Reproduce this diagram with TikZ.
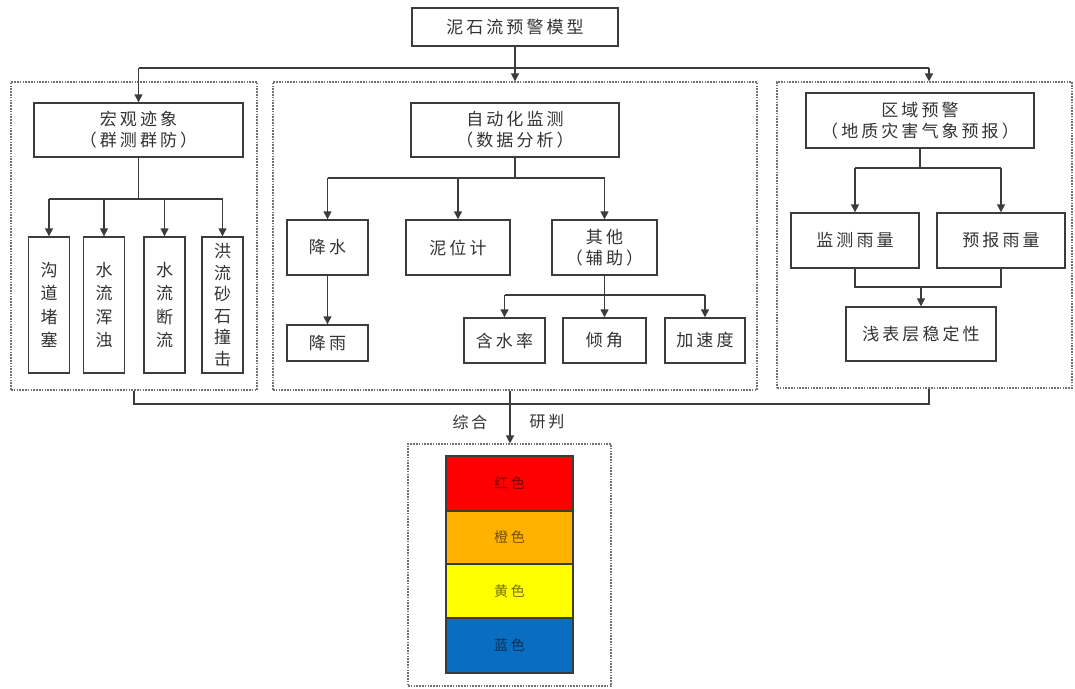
\documentclass[tikz,border=0pt]{standalone}
\usepackage{fontspec}
\newfontfamily\cjk[LetterSpace=18]{Noto Sans CJK SC}
\usetikzlibrary{arrows.meta}
\definecolor{ln}{HTML}{3C3C3C}
\definecolor{txt}{HTML}{333333}
\definecolor{grpc}{HTML}{707070}
\definecolor{cred}{HTML}{FF0000}
\definecolor{corange}{HTML}{FFB300}
\definecolor{cyellow}{HTML}{FFFF00}
\definecolor{cblue}{HTML}{0A6EC0}
\begin{document}
\begin{tikzpicture}[x=1pt,y=-1pt,
  box/.style={draw=ln, line width=1.4pt, fill=white, align=center, inner sep=0pt, text=txt,
    font=\cjk\fontsize{17}{21}\selectfont},
  vbox/.style={box, minimum width=41pt, minimum height=136pt, font=\cjk\fontsize{17}{23.5}\selectfont},
  grp/.style={draw=grpc, line width=1.2pt, dash pattern=on 1.6pt off 1.2pt, inner sep=0pt},
  conn/.style={draw=ln, line width=1.4pt},
  arr/.style={conn, -{Triangle[width=8pt,length=8pt]}},
  lbl/.style={inner sep=0pt, text=txt, font=\cjk\fontsize{16}{18}\selectfont},
  bar/.style={draw=ln, line width=1.2pt, minimum width=127pt, inner sep=0pt, font=\cjk\fontsize{14}{16}\selectfont}]
\useasboundingbox (0,0) rectangle (1075,688);
\fill[white] (0,0) rectangle (1075,688);
% groups
\node[grp, minimum width=246pt, minimum height=308pt] (gL) at (134,236) {};
\node[grp, minimum width=484pt, minimum height=308pt] (gM) at (515,236) {};
\node[grp, minimum width=295pt, minimum height=306pt] (gR) at (924.5,235) {};
\node[grp, minimum width=203pt, minimum height=242pt] (gB) at (509.5,565) {};
% top
\node[box, minimum width=206pt, minimum height=38pt] (top) at (515,27) {泥石流预警模型};
% left
\node[box, minimum width=209pt, minimum height=54pt] (macro) at (138.5,130) {宏观迹象\\（群测群防）};
\node[vbox] (v1) at (49,305) {沟\\道\\堵\\塞};
\node[vbox] (v2) at (104,305) {水\\流\\浑\\浊};
\node[vbox] (v3) at (164.5,305) {水\\流\\断\\流};
\node[vbox, font=\cjk\fontsize{17}{21.5}\selectfont] (v4) at (222.5,305) {洪\\流\\砂\\石\\撞\\击};
% middle
\node[box, minimum width=208pt, minimum height=54pt] (auto) at (515,130) {自动化监测\\（数据分析）};
\node[box, minimum width=81pt, minimum height=55pt] (js) at (327.5,247.5) {降水};
\node[box, minimum width=104pt, minimum height=55pt] (nw) at (458,247.5) {泥位计};
\node[box, minimum width=105pt, minimum height=55pt] (qt) at (604.5,247.5) {其他\\（辅助）};
\node[box, minimum width=81pt, minimum height=36pt] (jy) at (327.5,343) {降雨};
\node[box, minimum width=81pt, minimum height=45pt] (hs) at (504.5,340.5) {含水率};
\node[box, minimum width=83pt, minimum height=45pt] (qj) at (604.5,340.5) {倾角};
\node[box, minimum width=80pt, minimum height=45pt] (jsd) at (705,340.5) {加速度};
% right
\node[box, minimum width=228pt, minimum height=55pt] (rw) at (920,120.5) {区域预警\\（地质灾害气象预报）};
\node[box, minimum width=128pt, minimum height=55pt] (jc) at (855,240.5) {监测雨量};
\node[box, minimum width=128pt, minimum height=55pt] (yb) at (1001,240.5) {预报雨量};
\node[box, minimum width=150pt, minimum height=54pt] (sb) at (921,334) {浅表层稳定性};
% bottom bars
\node[bar, fill=cred, minimum height=55pt, text=cred!45!black] (red) at (509.5,483.5) {红色};
\node[bar, fill=corange, minimum height=53pt, text=corange!45!black] (org) at (509.5,537.5) {橙色};
\node[bar, fill=cyellow, minimum height=54pt, text=cyellow!45!black] (yel) at (509.5,591) {黄色};
\node[bar, fill=cblue, minimum height=55pt, text=cblue!45!black] (blu) at (509.5,645.5) {蓝色};
% top connectors
\coordinate (hL) at (138.5,68);
\coordinate (hR) at (929,68);
\draw[conn] (hL) -- (hR);
\draw[arr] (top.south) -- (gM.north);
\draw[arr] (hL) -- (macro.north);
\draw[arr] (hR) -- (hR |- gR.north);
% left branch
\coordinate (jL) at (138.5,199);
\draw[conn] (macro.south) -- (jL);
\draw[conn] (v1.north |- jL) -- (v4.north |- jL);
\foreach \n in {v1,v2,v3,v4} \draw[arr] (\n.north |- jL) -- (\n.north);
% middle branch
\coordinate (jM) at (515,178);
\draw[conn] (auto.south) -- (jM);
\draw[conn] (js.north |- jM) -- (qt.north |- jM);
\foreach \n in {js,nw,qt} \draw[arr] (\n.north |- jM) -- (\n.north);
\draw[arr] (js.south) -- (jy.north);
\coordinate (jQ) at (604.5,295);
\draw[conn] (qt.south) -- (jQ);
\draw[conn] (hs.north |- jQ) -- (jsd.north |- jQ);
\foreach \n in {hs,qj,jsd} \draw[arr] (\n.north |- jQ) -- (\n.north);
% right branch
\coordinate (jR) at (920,168);
\draw[conn] (rw.south) -- (jR);
\draw[conn] (jc.north |- jR) -- (yb.north |- jR);
\foreach \n in {jc,yb} \draw[arr] (\n.north |- jR) -- (\n.north);
\coordinate (jR2) at (921,287);
\draw[conn] (jc.south) -- (jc.south |- jR2) -- (yb.south |- jR2) -- (yb.south);
\draw[arr] (jR2) -- (sb.north);
% bottom connectors
\coordinate (bL) at (134,404);
\coordinate (bR) at (929,404);
\coordinate (bM) at (510,404);
\draw[conn] (gL.south) -- (bL) -- (bR) -- (bR |- gR.south);
\draw[conn] (bM |- gM.south) -- (bM);
\draw[arr] (bM) -- (bM |- gB.north);
\node[lbl] (zh) at (470,422) {综合};
\node[lbl] (yp) at (547,422) {研判};
\end{tikzpicture}
\end{document}
